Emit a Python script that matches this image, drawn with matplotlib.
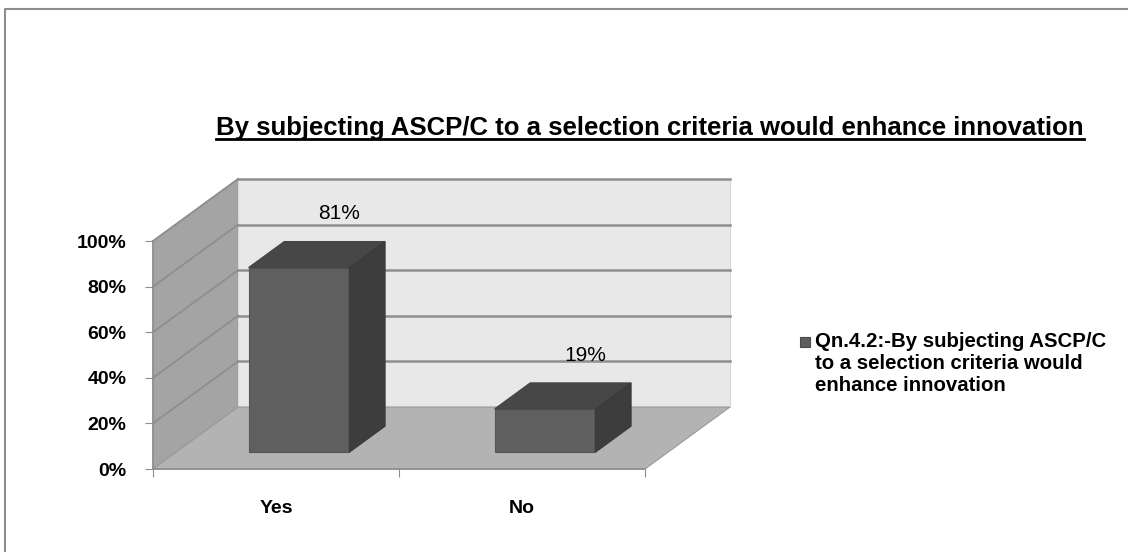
"""
3D-style bar chart: ASCP/C selection criteria and innovation
"""
import matplotlib.pyplot as plt
from matplotlib.patches import Polygon, Rectangle
from matplotlib.lines import Line2D

categories = ["Yes", "No"]
values = [81, 19]
ytick_values = [0, 20, 40, 60, 80, 100]
title = "By subjecting ASCP/C to a selection criteria would enhance innovation"
series_label = "Qn.4.2:-By subjecting ASCP/C\nto a selection criteria would\nenhance innovation"

plt.rcParams["font.family"] = ["Liberation Sans", "DejaVu Sans"]

W, H = 1128, 552
fig = plt.figure(figsize=(W / 100, H / 100), dpi=100)

# front plane of the box (pixels)
x0, x1, y0, y1 = 153, 645, 469, 241
ax = fig.add_axes([x0 / W, 1 - y0 / H, (x1 - x0) / W, (y0 - y1) / H])
ax.set_xlim(0, len(categories))
ax.set_ylim(0, 100)
ax.patch.set_alpha(0)

# depth offset of the back wall, in data units
DX = 85 / ((x1 - x0) / len(categories))
DY = 62 / ((y0 - y1) / 100)


def proj(x, v, d):
    return (x + d * DX, v + d * DY)


def face(pts, color, z, ec=None, lw=0.8):
    ax.add_patch(Polygon([proj(*p) for p in pts], closed=True, facecolor=color,
                         edgecolor=ec or color, lw=lw, zorder=z, clip_on=False))


n = len(categories)
# walls and floor
face([(0, 0, 0), (0, 100, 0), (0, 100, 1), (0, 0, 1)], "#a4a4a4", 1, "#9a9a9a")
face([(0, 0, 1), (0, 100, 1), (n, 100, 1), (n, 0, 1)], "#e8e8e8", 1, "#d8d8d8")
face([(0, 0, 0), (n, 0, 0), (n, 0, 1), (0, 0, 1)], "#b3b3b3", 1, "#999999")

grid_c = "#8e8e8e"
for v in ytick_values[1:]:
    xa, ya = proj(0, v, 0)
    xb, yb = proj(0, v, 1)
    xc, yc = proj(n, v, 1)
    ax.plot([xa, xb], [ya, yb], color=grid_c, lw=1.3, zorder=2, clip_on=False)
    ax.plot([xb, xc], [yb, yc], color=grid_c, lw=1.8, zorder=2, clip_on=False)

# bars
bw = 0.41
d0, d1 = 0.27, 0.69
for i, v in enumerate(values):
    l, r = i + 0.5 - bw / 2, i + 0.5 + bw / 2
    face([(l, 0, d0), (r, 0, d0), (r, v, d0), (l, v, d0)], "#5f5f5f", 3, "#555555")
    face([(l, v, d0), (r, v, d0), (r, v, d1), (l, v, d1)], "#474747", 3, "#444444")
    face([(r, 0, d0), (r, v, d0), (r, v, d1), (r, 0, d1)], "#3d3d3d", 3, "#3a3a3a")
    ax.annotate(f"{v}%", xy=proj(i + 0.5, v, d1), xytext=(3, 20),
                textcoords="offset points", ha="center", va="center",
                fontsize=15, zorder=5, annotation_clip=False)

# axes
for s in ["top", "right"]:
    ax.spines[s].set_visible(False)
for s in ["left", "bottom"]:
    ax.spines[s].set_color("#8e8e8e")
    ax.spines[s].set_linewidth(1.2)
    ax.spines[s].set_zorder(2.5)

ax.set_yticks(ytick_values)
ax.set_yticklabels([f"{v}%" for v in ytick_values], fontsize=14, fontweight="bold")
ax.tick_params(axis="y", length=6, color="#8e8e8e", pad=13)
ax.set_xticks(range(n + 1))
ax.set_xticklabels([])
ax.set_xticks([i + 0.5 for i in range(n)], minor=True)
ax.set_xticklabels(categories, minor=True, fontsize=14, fontweight="bold")
ax.tick_params(axis="x", which="major", length=6, color="#8e8e8e")
ax.tick_params(axis="x", which="minor", length=0, pad=22)

# title with underline
t = fig.text(650 / W, 1 - 128 / H, title, ha="center", va="center",
             fontsize=18.5, fontweight="bold")
fig.canvas.draw()
bb = t.get_window_extent()
fig.add_artist(Line2D([bb.x0 / W, bb.x1 / W], [(bb.y0 + 1) / H] * 2,
                      transform=fig.transFigure, color="black", lw=2))

# legend
fig.add_artist(Rectangle((800 / W, 1 - 347 / H), 10 / W, 10 / H, transform=fig.transFigure,
                         facecolor="#5f5f5f", edgecolor="#4a4a4a", lw=0.8))
fig.text(815 / W, 1 - 332 / H, series_label, ha="left", va="top",
         fontsize=14.7, fontweight="bold", linespacing=1.2)

# chart area border
fig.add_artist(Line2D([5 / W, 5 / W, 1], [0, 1 - 9 / H, 1 - 9 / H],
                      transform=fig.transFigure, color="#8e8e8e", lw=1.5))

fig.savefig("out.png", dpi=100)
